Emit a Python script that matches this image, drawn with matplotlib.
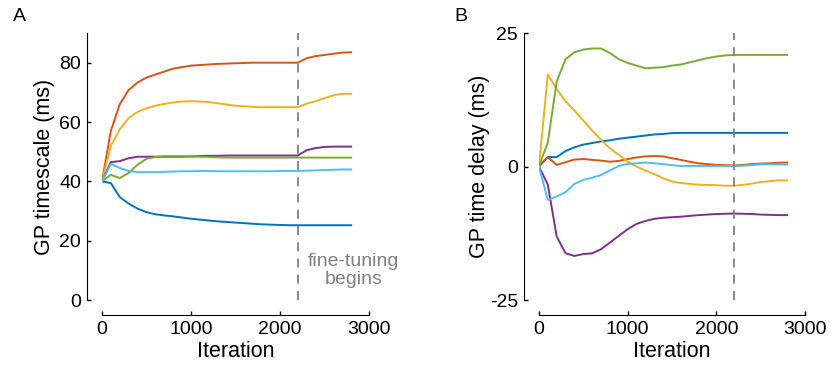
import numpy as np
import matplotlib
matplotlib.use("Agg")
import matplotlib.pyplot as plt

plt.rcParams['font.family'] = ['Liberation Sans', 'DejaVu Sans']
plt.rcParams['font.size'] = 14
plt.rcParams['axes.unicode_minus'] = False

# iterations sampled every 100 steps
iters = np.arange(0, 2900, 100)

colors = ['#0072BD', '#D95319', '#EDB120', '#7E2F8E', '#77AC30', '#4DBEEE']

# panel A: GP timescale (ms)
ts_blue = [40, 39.4, 34.7, 32.5, 30.8, 29.6, 28.9, 28.5, 28.2, 27.8, 27.4, 27.1, 26.8, 26.5, 26.3,
           26.1, 25.9, 25.7, 25.5, 25.4, 25.3, 25.2, 25.2, 25.2, 25.2, 25.2, 25.2, 25.2, 25.2]
ts_red = [40, 57, 66, 70.8, 73.3, 75, 76, 77, 78, 78.5, 79, 79.2, 79.4, 79.6, 79.7,
          79.8, 79.9, 80, 80, 80, 80, 80, 80, 81.5, 82.2, 82.6, 83, 83.4, 83.5]
ts_yellow = [40, 52, 57.5, 61.3, 63.4, 64.6, 65.5, 66.1, 66.6, 66.9, 67, 66.9, 66.7, 66.3, 65.9,
             65.5, 65.3, 65.1, 65, 65, 65, 65, 65, 66.2, 67, 68, 69, 69.5, 69.5]
ts_purple = [40, 46.5, 46.8, 47.8, 48.3, 48.3, 48.3, 48.3, 48.3, 48.3, 48.4, 48.5, 48.6, 48.6, 48.7,
             48.7, 48.7, 48.7, 48.7, 48.7, 48.7, 48.7, 48.7, 50.5, 51.2, 51.6, 51.7, 51.7, 51.7]
ts_green = [40, 42.2, 41.1, 42.8, 45.6, 47.6, 48.2, 48.5, 48.5, 48.5, 48.4, 48.3, 48.2, 48.1, 48.0,
            48.0, 48.0, 48.0, 48.0, 48.0, 48.0, 48.0, 48.0, 48.0, 48.0, 48.0, 48.0, 48.0, 48.0]
ts_cyan = [40, 45.9, 44.5, 43.5, 43.1, 43.1, 43.1, 43.2, 43.3, 43.4, 43.4, 43.5, 43.5, 43.4, 43.4,
           43.4, 43.4, 43.4, 43.4, 43.4, 43.5, 43.5, 43.5, 43.6, 43.7, 43.8, 43.9, 44.0, 44.0]

# panel B: GP time delay (ms)
td_blue = [0, 1.8, 1.75, 2.9, 3.6, 4.1, 4.4, 4.7, 4.9, 5.2, 5.4, 5.6, 5.8, 6.0, 6.1,
           6.25, 6.3, 6.3, 6.3, 6.3, 6.3, 6.3, 6.3, 6.3, 6.3, 6.3, 6.3, 6.3, 6.3]
td_red = [0, 1.75, 0.3, 0.8, 1.3, 1.4, 1.25, 1.1, 0.9, 1.05, 1.4, 1.7, 1.9, 1.95, 1.9,
          1.55, 1.25, 0.9, 0.6, 0.45, 0.3, 0.25, 0.2, 0.3, 0.45, 0.55, 0.6, 0.7, 0.75]
td_yellow = [0, 17.2, 14.5, 12.2, 10.5, 8.6, 6.75, 5.0, 3.4, 2.2, 0.9, 0, -0.75, -1.4, -2.2,
             -2.8, -3.1, -3.25, -3.4, -3.45, -3.5, -3.6, -3.6, -3.45, -3.2, -2.9, -2.75, -2.6, -2.6]
td_purple = [0, -3.4, -13.1, -16.25, -16.75, -16.4, -16.25, -15.5, -14.25, -13.0, -11.75, -10.75, -10.2, -9.8, -9.6,
             -9.5, -9.4, -9.25, -9.1, -9.0, -8.9, -8.85, -8.8, -8.85, -8.9, -9.0, -9.05, -9.1, -9.1]
td_green = [0, 4.5, 15.9, 20.1, 21.4, 21.9, 22.1, 22.1, 21.25, 20.1, 19.4, 18.9, 18.4, 18.5, 18.6,
            18.9, 19.1, 19.5, 19.9, 20.3, 20.6, 20.8, 20.9, 20.9, 20.9, 20.9, 20.9, 20.9, 20.9]
td_cyan = [0, -6.25, -5.6, -4.8, -3.25, -2.5, -2.1, -1.6, -0.75, 0.1, 0.5, 0.6, 0.75, 0.6, 0.45,
           0.25, 0.1, 0.1, 0.1, 0.1, 0.1, 0.1, 0.1, 0.15, 0.25, 0.4, 0.4, 0.4, 0.4]

finetune_start = 2200


def style_axes(ax, ylim, yticks):
    ax.set_xlim(0, 3000)
    ax.set_ylim(*ylim)
    for side in ['top', 'right']:
        ax.spines[side].set_visible(False)
    ax.spines['left'].set_position(('outward', 11))
    ax.spines['bottom'].set_position(('outward', 11))
    ax.spines['left'].set_bounds(*ylim)
    ax.spines['bottom'].set_bounds(0, 3000)
    ax.set_xticks([0, 1000, 2000, 3000])
    ax.set_yticks(yticks)
    ax.tick_params(direction='in', length=3, width=1, pad=4)
    ax.set_xlabel('Iteration', fontsize=15.5, labelpad=2)


fig = plt.figure(figsize=(8.33, 3.66), dpi=100)
ax1 = fig.add_axes([0.1224, 0.1803, 0.3205, 0.7295])
ax2 = fig.add_axes([0.647, 0.1803, 0.3193, 0.7295])

series_a = [ts_blue, ts_red, ts_yellow, ts_purple, ts_green, ts_cyan]
series_b = [td_blue, td_red, td_yellow, td_purple, td_green, td_cyan]

for ys, c in zip(series_a, colors):
    ax1.plot(iters, ys, color=c, lw=1.4)
ax1.plot([finetune_start, finetune_start], [0, 90], '--', color='#808080', lw=1.3, dashes=(5, 4))
ax1.text(2830, 10, 'fine-tuning\nbegins', color='#808080', ha='center', va='center',
         linespacing=1.05)
style_axes(ax1, (0, 90), [0, 20, 40, 60, 80])
ax1.set_ylabel('GP timescale (ms)', fontsize=15.5, labelpad=3)

for ys, c in zip(series_b, colors):
    ax2.plot(iters, ys, color=c, lw=1.4)
ax2.plot([finetune_start, finetune_start], [-25, 25], '--', color='#808080', lw=1.3, dashes=(5, 4))
style_axes(ax2, (-25, 25), [-25, 0, 25])
ax2.set_ylabel('GP time delay (ms)', fontsize=15.5, labelpad=0)

fig.text(0.015, 0.955, 'A', fontsize=14, va='center')
fig.text(0.546, 0.955, 'B', fontsize=14, va='center')

fig.savefig('out.png', dpi=100)
